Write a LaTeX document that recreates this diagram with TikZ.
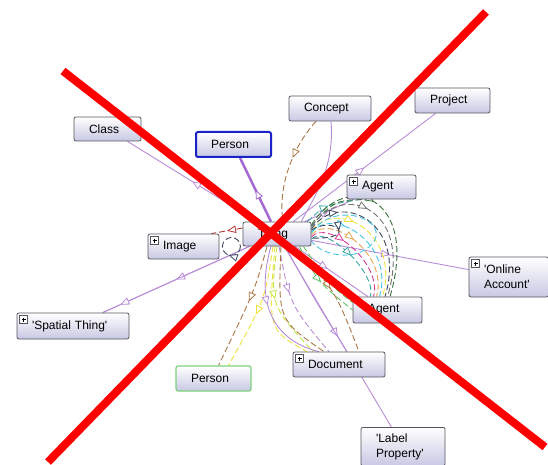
\documentclass[tikz,border=0pt]{standalone}
\usepackage{fontspec}
\newfontfamily\lsans{Liberation Sans}
\usetikzlibrary{arrows.meta,decorations.markings,calc}
\pgfdeclarelayer{bg}
\pgfdeclarelayer{edges}
\pgfsetlayers{bg,edges,main}
\definecolor{edgepurple}{RGB}{185,140,215}
\definecolor{thickpurple}{RGB}{165,105,210}
\definecolor{boxbot}{RGB}{200,200,228}
\definecolor{boxline}{RGB}{85,85,95}
\definecolor{xred}{RGB}{255,0,0}
\definecolor{pblue}{RGB}{25,35,200}
\definecolor{pgreen}{RGB}{125,210,125}
\definecolor{fdg}{RGB}{55,115,60}
\definecolor{fgray}{RGB}{115,115,115}
\definecolor{fslate}{RGB}{60,70,95}
\definecolor{fyel}{RGB}{240,225,60}
\definecolor{fcyan}{RGB}{70,200,230}
\definecolor{forange}{RGB}{230,165,80}
\definecolor{fmag}{RGB}{210,60,150}
\definecolor{fteal}{RGB}{60,165,165}
\definecolor{fbrown}{RGB}{170,120,70}
\definecolor{fgreen}{RGB}{100,195,100}
\definecolor{flime}{RGB}{195,230,70}
\definecolor{fdred}{RGB}{180,55,55}
\tikzset{
  cls/.style={draw=boxline, line width=0.8pt, rounded corners=2pt,
    top color=white, bottom color=boxbot, inner xsep=15pt, inner ysep=2pt,
    align=left, font=\lsans\fontsize{12}{15}\selectfont},
  expand/.style={path picture={
    \draw[sharp corners, draw=boxline, fill=white, line width=0.5pt]
      ([shift={(2.5,2.5)}]path picture bounding box.north west) rectangle ++(8,8);
    \draw[sharp corners, line width=0.9pt, black]
      ([shift={(4.5,6.5)}]path picture bounding box.north west) -- ++(4,0)
      ([shift={(6.5,4.5)}]path picture bounding box.north west) -- ++(0,4);}},
  edge/.style={draw=edgepurple, line width=0.9pt},
  dsh/.style={line width=0.9pt, dash pattern=on 6pt off 3pt},
  ma/.style={postaction={decorate,decoration={markings,
    mark=at position #1 with {\arrow{Triangle[length=9pt,width=7.5pt,fill=white,line width=0.8pt]}}}}},
  ma/.default=0.5,
  xline/.style={draw=xred, line width=8pt}
}
\begin{document}
\begin{tikzpicture}[x=1pt,y=-1pt]
\useasboundingbox (0,0) rectangle (548,465);
\begin{pgfonlayer}{bg}
\fill[white] (0,0) rectangle (548,465);
\end{pgfonlayer}

% nodes
\node[cls, text width=37pt, minimum width=67pt, minimum height=24pt] (class) at (107.5,129) {Class};
\node[cls, draw=pblue, line width=2pt, text width=45pt, minimum width=75pt, minimum height=25pt] (personb) at (233.5,144.5) {Person};
\node[cls, text width=52pt, minimum width=82pt, minimum height=25pt] (concept) at (330,108.5) {Concept};
\node[cls, text width=45pt, minimum width=75pt, minimum height=25pt] (project) at (452.5,100.5) {Project};
\node[cls, expand, text width=39pt, minimum width=69pt, minimum height=24pt] (agenta) at (381.5,187) {Agent};
\node[cls, text width=38pt, minimum width=68pt, minimum height=24pt] (thing) at (277,234) {Thing};
\node[cls, expand, text width=41pt, minimum width=71pt, minimum height=25pt] (image) at (183.5,246.5) {Image};
\node[cls, expand, text width=49.5pt, minimum width=79.5pt, minimum height=40pt] (online) at (508.75,277) {'Online\\Account'};
\node[cls, expand, text width=82pt, minimum width=112pt, minimum height=26pt] (spatial) at (73,326) {'Spatial Thing'};
\node[cls, text width=39pt, minimum width=69pt, minimum height=26pt] (agentb) at (387.5,310) {Agent};
\node[cls, expand, text width=62pt, minimum width=92pt, minimum height=25pt] (document) at (339,364.5) {Document};
\node[cls, draw=pgreen, line width=1.2pt, text width=45pt, minimum width=75pt, minimum height=25pt] (persong) at (213.5,378.5) {Person};
\node[cls, anchor=north, text width=54pt, minimum width=84pt, minimum height=38.5pt] (label) at (403,427) {'Label\\Property'};

\begin{pgfonlayer}{edges}
% straight subclass edges
\draw[edge, ma] (thing) -- (class);
\draw[draw=thickpurple, line width=2.5pt, ma] (thing) -- (personb);
\draw[edge, ma] (thing) -- (project);
\draw[edge, ma] (thing) -- (spatial);
\draw[edge, ma=0.88] (thing) -- (spatial);
\draw[edge, ma] (thing) -- (online);
\draw[edge, ma] (thing) -- (label);
\draw[edge, ma] (thing) -- (agenta);
\draw[edge, ma=0.45] (thing) -- (agentb);

% concept
\draw[dsh, fbrown, ma=0.4] ($(concept.south)+(-14,0)$) .. controls (290,150) and (278,190) .. ($(thing.north)+(6,0)$);
\draw[edge] ($(concept.south)+(1,0)$) .. controls (335,170) and (312,200) .. ($(thing.north east)+(-10,0)$);

% image
\draw[dsh, fdred, ma] ($(thing.west)+(0,-6)$) -- ($(image.north east)+(-8,0)$);
\draw[dsh, fslate, ma=0.3] ($(image.east)+(12,0)$) circle[radius=9];

% upper agent dashed
\draw[dsh, fteal, ma=0.45] ($(thing.north east)+(-4,0)$) .. controls (325,205) .. ($(agenta.south west)+(14,0)$);
\draw[dsh, fdg] ($(thing.east)+(0,-8)$) .. controls (335,200) .. ($(agenta.south west)+(24,0)$);

% fan to lower agent
\foreach \col/\sy/\ax/\ay/\bx/\by/\ex/\p in {
  fdg/-9/345/170/420/195/2.5/0.42,
  fgray/-7/342/180/414/208/0/0.40,
  fslate/-5/338/190/408/220/-2.5/0.22,
  fyel/-3/335/198/401/232/-5/0.35,
  fcyan/-1/332/205/395/243/-8/0.30,
  forange/1/330/212/389/254/-11/0.42,
  fmag/3/328/218/383/264/-14/0.35,
  fteal/5/326/224/377/273/-17/0.5}
  \draw[dsh, \col, ma=\p] ($(thing.east)+(0,\sy)$) .. controls (\ax,\ay) and (\bx,\by) .. ($(agentb.north)+(\ex,0)$);
% cyan loop
\draw[dsh, fcyan] ($(thing.east)+(0,-2)$) .. controls (338,198) and (392,222) .. (372,244) .. controls (356,262) and (322,256) .. ($(thing.east)+(0,7)$);
\draw[dsh, fslate, ma=0.5] ($(thing.east)+(0,-4)$) .. controls (335,215) and (360,240) .. ($(thing.east)+(0,4)$);

% lower curves
\draw[dsh, fbrown, ma=0.45] ($(thing.south)+(-10,0)$) .. controls (255,290) .. ($(persong.north)+(5,0)$);
\draw[dsh, fyel, ma=0.55] ($(thing.south)+(-4,0)$) .. controls (265,300) .. ($(persong.north)+(15,0)$);
\draw[dsh, fyel] ($(thing.south)+(-2,0)$) .. controls (268,330) .. ($(document.north)+(-32,0)$);
\draw[dsh, flime, ma=0.45] ($(thing.south)+(0,0)$) .. controls (270,305) .. ($(document.north)+(-26,0)$);
\draw[edge, ma=0.45] ($(thing.south)+(-6,0)$) .. controls (250,320) and (290,345) .. ($(document.north)+(-20,0)$);
\draw[dsh, edgepurple, ma=0.4] ($(thing.south)+(2,0)$) .. controls (290,305) .. ($(document.north)+(-10,0)$);
\draw[dsh, fbrown] ($(thing.south)+(4,0)$) .. controls (278,320) .. ($(document.north)+(-15,0)$);
\draw[edge] ($(thing.south)+(8,0)$) .. controls (315,300) .. ($(document.north)+(8,0)$);
\draw[dsh, fbrown, ma=0.45] ($(thing.south east)+(-18,0)$) .. controls (335,290) .. ($(document.north)+(20,0)$);
\draw[dsh, fgreen, ma=0.5] ($(thing.south east)+(-12,0)$) .. controls (318,282) .. (agentb.west);
\draw[dsh, fgreen] ($(thing.south east)+(-8,0)$) .. controls (330,285) .. ($(agentb.north west)+(0,6)$);
\end{pgfonlayer}

% red cross
\draw[xline] (63,71) -- (545,447);
\draw[xline] (486,12) -- (48,462);
\end{tikzpicture}
\end{document}
